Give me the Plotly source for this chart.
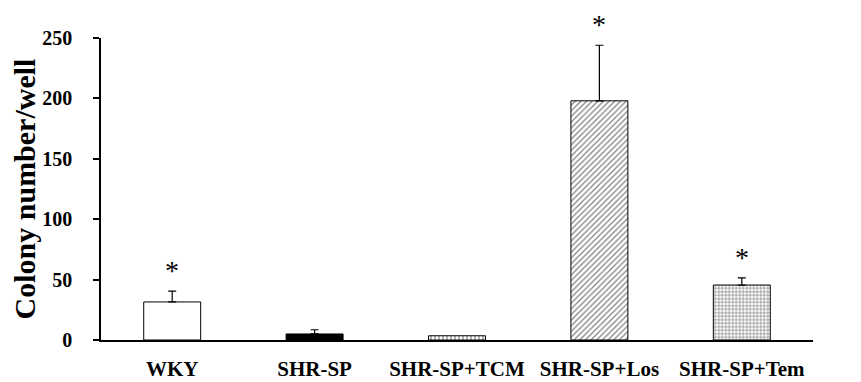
import plotly.graph_objects as go

categories = ["WKY", "SHR-SP", "SHR-SP+TCM", "SHR-SP+Los", "SHR-SP+Tem"]
values = [31.5, 5, 3.5, 198, 45.5]
errors = [9, 3.5, 0, 46, 6]
significant = [True, False, False, True, True]
y_ticks = [0, 50, 100, 150, 200, 250]

fills = ["white", "black", "white", "white", "white"]
shapes = ["", "", "|", "/", "+"]
psizes = [8, 8, 4, 4, 3.5]
solid = [0.3, 0.3, 0.3, 0.3, 0.35]

FONT = "Liberation Serif"

fig = go.Figure()
for i, c in enumerate(categories):
    fig.add_trace(go.Bar(
        x=[c], y=[values[i]],
        width=0.4,
        marker=dict(color=fills[i], line=dict(color="black", width=1),
                    pattern=dict(shape=shapes[i], fgcolor="black", bgcolor="white" if fills[i] == "white" else "black",
                                 size=psizes[i], solidity=solid[i])),
        error_y=dict(type="data", array=[errors[i]], arrayminus=[0], symmetric=False,
                     color="black", thickness=1.2, width=4, visible=errors[i] > 0),
        showlegend=False,
    ))

for i, c in enumerate(categories):
    if significant[i]:
        fig.add_annotation(x=c, y=values[i] + errors[i], text="*", showarrow=False,
                           yanchor="top", yshift=37, borderpad=0,
                           font=dict(family=FONT, size=28, color="black"))

# page body has an 8px margin, so the figure is offset by (8, 8)
fig.update_layout(
    width=853, height=374,
    margin=dict(l=93, r=48, t=30, b=42),
    plot_bgcolor="white", paper_bgcolor="white",
    font=dict(family=FONT, color="black"),
)
fig.update_xaxes(
    categoryorder="array", categoryarray=categories, range=[-0.5, 4.5],
    showline=True, linecolor="black", linewidth=1.5, ticks="",
    tickangle=0, automargin=False,
    tickfont=dict(family=FONT, size=21, color="black", weight="bold"),
    ticklabelstandoff=9,
    showgrid=False, zeroline=False,
)
fig.update_yaxes(
    range=[0, 250], tickvals=y_ticks, automargin=False,
    showline=True, linecolor="black", linewidth=1.5,
    ticks="outside", ticklen=6, tickwidth=1.5, tickcolor="black",
    tickfont=dict(family=FONT, size=20, color="black", weight="bold"),
    ticklabelstandoff=17,
    title=dict(text="Colony number/well", font=dict(family=FONT, size=30, color="black", weight="bold"), standoff=24),
    showgrid=False, zeroline=False,
)

fig.write_html("out.html")
